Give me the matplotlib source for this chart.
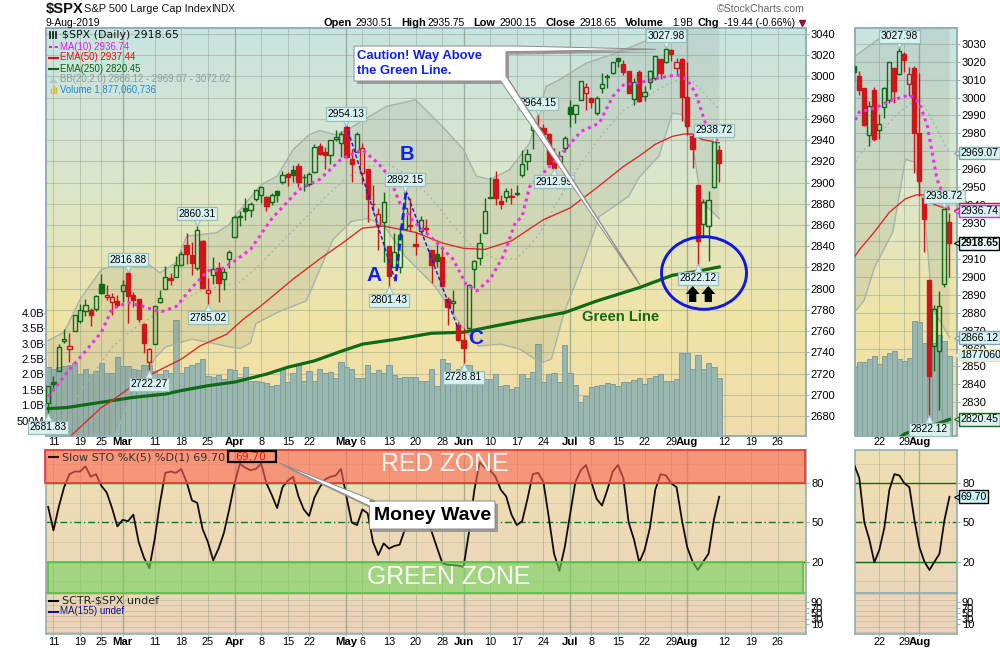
import numpy as np
import matplotlib
matplotlib.use("Agg")
import matplotlib.pyplot as plt
from matplotlib.colors import LinearSegmentedColormap
from matplotlib.patches import Rectangle, Polygon, Ellipse
from matplotlib.transforms import offset_copy

plt.rcParams['font.family'] = ['Liberation Sans', 'DejaVu Sans']

# daily bars, 8 Feb to 9 Aug 2019
opens = [2692.36, 2712.40, 2722.61, 2750.30, 2743.50, 2760.24, 2769.28, 2779.05, 2780.24, 2780.67,
         2804.35, 2792.36, 2787.89, 2788.11, 2798.22, 2814.37, 2794.41, 2790.27, 2766.53, 2730.79,
         2747.61, 2787.34, 2799.78, 2810.38, 2810.79, 2822.61, 2840.76, 2831.34, 2819.72, 2844.52,
         2796.01, 2812.66, 2819.72, 2809.40, 2828.27, 2848.63, 2868.24, 2876.09, 2873.99, 2884.16,
         2888.46, 2886.58, 2881.37, 2891.92, 2900.86, 2908.32, 2912.26, 2916.04, 2904.81, 2898.78,
         2909.99, 2934.00, 2928.99, 2925.81, 2940.58, 2937.14, 2952.33, 2922.16, 2929.21, 2908.89,
         2913.03, 2879.61, 2859.84, 2863.10, 2840.19, 2820.12, 2820.38, 2855.80, 2858.60, 2841.94,
         2854.02, 2856.06, 2836.70, 2832.41, 2830.03, 2790.25, 2786.94, 2766.15, 2751.53, 2762.64,
         2818.09, 2828.51, 2852.87, 2885.83, 2903.27, 2882.73, 2886.24, 2886.82, 2889.75, 2906.71,
         2920.55, 2949.60, 2952.71, 2951.42, 2945.78, 2926.07, 2919.66, 2932.94, 2971.41, 2964.66,
         2978.08, 2984.25, 2979.77, 2965.52, 2989.30, 2999.62, 3003.36, 3017.80, 3012.13, 3005.10,
         2978.87, 3004.26, 2981.93, 2994.74, 2998.77, 3016.26, 3013.25, 3024.47, 3007.66, 3016.22,
         2980.32, 2943.90, 2898.07, 2861.18, 2858.65, 2896.21, 2930.51]
highs = [2708.07, 2718.05, 2748.19, 2761.85, 2757.90, 2775.66, 2785.50, 2789.88, 2781.58, 2794.20,
         2813.49, 2803.12, 2795.76, 2793.73, 2808.02, 2816.88, 2796.44, 2790.27, 2767.25, 2744.13,
         2784.00, 2798.32, 2821.24, 2815.00, 2830.73, 2835.41, 2852.42, 2843.54, 2860.31, 2846.16,
         2809.79, 2829.87, 2825.56, 2819.71, 2836.03, 2869.40, 2872.90, 2885.25, 2881.28, 2893.24,
         2895.95, 2886.88, 2889.71, 2893.42, 2910.54, 2909.60, 2916.06, 2918.00, 2908.40, 2909.51,
         2936.31, 2936.83, 2933.10, 2939.88, 2949.52, 2948.22, 2954.13, 2931.68, 2947.85, 2937.32,
         2913.03, 2897.96, 2875.97, 2891.31, 2840.19, 2852.54, 2858.68, 2892.15, 2885.48, 2853.86,
         2868.88, 2865.47, 2836.70, 2841.36, 2840.51, 2792.03, 2799.00, 2768.98, 2763.07, 2804.49,
         2827.28, 2852.10, 2884.97, 2904.77, 2910.61, 2888.57, 2895.24, 2894.45, 2897.27, 2930.79,
         2931.74, 2958.06, 2964.15, 2954.92, 2946.52, 2932.59, 2929.30, 2943.98, 2977.93, 2973.21,
         2995.84, 2994.03, 2980.76, 2981.90, 3002.98, 3002.33, 3013.92, 3017.80, 3015.02, 3005.26,
         2998.28, 3006.02, 2990.71, 3005.90, 3019.59, 3016.31, 3027.98, 3025.61, 3017.19, 3017.40,
         3013.59, 2945.50, 2898.07, 2884.40, 2892.17, 2938.72, 2935.75]
lows = [2681.83, 2703.79, 2722.61, 2748.63, 2731.23, 2760.24, 2767.25, 2774.06, 2764.55, 2779.11,
        2794.99, 2789.47, 2775.13, 2782.51, 2787.38, 2767.66, 2782.97, 2768.69, 2739.09, 2722.27,
        2747.61, 2786.73, 2799.78, 2803.46, 2810.79, 2821.99, 2823.27, 2812.43, 2817.38, 2800.47,
        2785.02, 2803.99, 2787.72, 2798.77, 2819.23, 2848.63, 2858.75, 2865.17, 2867.14, 2882.99,
        2880.78, 2873.33, 2879.13, 2881.99, 2898.37, 2896.48, 2900.71, 2895.45, 2891.90, 2896.35,
        2908.53, 2926.05, 2912.84, 2917.56, 2939.35, 2924.11, 2923.36, 2900.50, 2929.21, 2898.21,
        2862.60, 2873.28, 2836.40, 2825.39, 2801.43, 2820.12, 2815.08, 2855.80, 2854.23, 2831.29,
        2854.02, 2851.11, 2805.49, 2820.19, 2801.58, 2766.06, 2776.74, 2750.52, 2728.81, 2762.64,
        2800.92, 2822.45, 2852.87, 2885.51, 2878.53, 2874.68, 2881.99, 2879.62, 2887.30, 2905.44,
        2911.43, 2931.50, 2946.87, 2944.05, 2916.01, 2912.99, 2918.57, 2929.05, 2952.22, 2955.92,
        2977.96, 2967.97, 2970.09, 2963.44, 2984.62, 2988.80, 3001.87, 3008.77, 3001.15, 2984.25,
        2973.09, 2975.86, 2976.65, 2988.56, 2996.82, 2997.24, 3012.59, 3014.30, 3000.94, 2958.08,
        2945.23, 2914.11, 2822.12, 2847.42, 2825.71, 2894.47, 2900.15]
closes = [2707.88, 2709.80, 2744.73, 2753.03, 2745.73, 2775.60, 2779.76, 2784.70, 2774.88, 2792.67,
          2796.11, 2793.90, 2792.38, 2784.49, 2803.69, 2792.81, 2789.65, 2771.45, 2748.93, 2743.07,
          2783.30, 2791.52, 2810.92, 2808.48, 2822.48, 2832.94, 2832.57, 2824.23, 2854.88, 2800.71,
          2798.36, 2818.46, 2805.37, 2815.44, 2834.40, 2867.19, 2867.24, 2873.40, 2879.39, 2892.74,
          2895.77, 2878.20, 2888.21, 2888.32, 2907.41, 2905.58, 2907.06, 2900.45, 2905.03, 2907.97,
          2933.68, 2927.25, 2926.17, 2939.88, 2943.03, 2945.83, 2923.73, 2917.52, 2945.64, 2932.47,
          2884.05, 2879.42, 2870.72, 2881.40, 2811.87, 2834.41, 2850.96, 2876.32, 2859.53, 2840.23,
          2864.36, 2856.27, 2822.24, 2826.06, 2802.39, 2783.02, 2788.86, 2752.06, 2744.45, 2803.27,
          2826.15, 2843.49, 2873.34, 2886.73, 2885.72, 2879.84, 2891.64, 2886.98, 2889.67, 2917.75,
          2926.46, 2954.18, 2950.46, 2945.35, 2917.38, 2913.78, 2924.92, 2941.76, 2964.33, 2973.01,
          2995.82, 2990.41, 2975.95, 2979.63, 2993.07, 2999.91, 3013.77, 3014.30, 3004.04, 2984.42,
          2995.11, 2976.61, 2985.03, 3005.47, 3019.56, 3003.67, 3025.86, 3020.97, 3013.18, 2980.38,
          2953.56, 2932.05, 2844.74, 2881.77, 2883.98, 2938.09, 2918.65]
volumes = [2.25, 2.16, 2.25, 2.28, 2.30, 2.36, 2.01, 2.19, 2.01, 2.11,
           2.36, 2.06, 2.06, 2.55, 2.27, 2.27, 2.19, 2.14, 2.30, 2.30,
           2.12, 2.01, 2.14, 2.06, 3.76, 2.06, 2.24, 2.30, 2.36, 2.49,
           1.94, 1.92, 1.98, 1.85, 2.19, 2.13, 1.92, 2.23, 1.78, 1.78,
           1.74, 1.71, 1.62, 1.65, 2.19, 1.74, 2.06, 2.30, 1.78, 2.11,
           1.78, 2.19, 2.06, 2.09, 1.87, 2.39, 2.25, 2.16, 1.87, 1.87,
           2.29, 2.03, 2.13, 2.03, 2.32, 1.97, 1.87, 1.92, 1.90, 1.90,
           1.80, 1.80, 2.19, 1.61, 2.49, 2.38, 1.97, 2.19, 2.25, 2.29,
           2.03, 1.89, 1.84, 1.86, 2.02, 1.63, 1.65, 1.54, 1.58, 2.00,
           1.87, 2.09, 3.00, 1.74, 2.00, 2.03, 1.74, 2.94, 2.03, 1.67,
           1.10, 1.30, 1.58, 1.63, 1.65, 1.73, 1.69, 1.62, 1.74, 1.74,
           1.81, 1.87, 1.69, 1.87, 1.94, 2.00, 1.80, 1.77, 1.84, 2.71,
           2.68, 2.19, 2.62, 2.19, 2.36, 2.23, 1.88]
slow_sto = [62, 44, 62, 77, 87, 89, 89, 93, 85, 87,
            78, 73, 61, 47, 52, 51, 56, 35, 23, 15,
            37, 65, 88, 89, 88, 91, 81, 67, 65, 45,
            35, 21, 30, 42, 60, 80, 95, 92, 90, 91,
            95, 80, 71, 61, 77, 82, 85, 70, 60, 55,
            69, 77, 83, 85, 86, 91, 70, 50, 48, 60,
            57, 35, 25, 34, 30, 32, 33, 45, 55, 58,
            55, 50, 43, 31, 19, 17.5, 17.3, 17, 16, 42,
            74, 96, 92, 90, 85, 75, 70, 56, 48, 51,
            68, 87, 88, 81, 54, 26, 13, 31, 56, 81,
            90, 94, 81, 68, 63, 75, 89, 94, 84, 50,
            37, 19.5, 29, 46, 75, 87, 86, 80, 77, 52,
            31, 20, 13.6, 20, 26, 52, 69.7]

# overlay lines as (bar number, value)
ma10_x = [0, 4, 7, 10, 12, 15, 18, 21, 24, 27, 30, 32, 35, 38, 42, 47, 51, 55, 59, 62, 64, 66, 68.5, 72, 76,
          78.5, 80.5, 83, 85.5, 87.7, 89, 90.4, 93, 96.6, 100, 103.5, 106, 108, 111, 114, 118, 120, 121.6, 123.5, 126]
ma10_y = [2698, 2724, 2741, 2759, 2781, 2787, 2783, 2778, 2783, 2801, 2817, 2817, 2826, 2837, 2866, 2893, 2903,
          2922, 2931, 2918, 2906, 2881, 2864, 2848, 2828, 2804, 2798, 2809, 2831, 2862, 2868, 2896, 2909, 2928,
          2948, 2956, 2981, 2992, 2994, 2998, 3001.5, 2997, 2984, 2954.5, 2936.74]
ema50_x = [4.4, 10, 12, 16, 20, 25, 28.5, 33.5, 36.6, 40, 46, 51, 55, 59, 63, 69, 74, 78, 82, 87, 93, 98, 103,
           108, 111, 114, 117.2, 119.4, 121, 122.9, 126]
ema50_y = [2662, 2688, 2694.5, 2709, 2721, 2733.6, 2746, 2757, 2771, 2784, 2809, 2828, 2842, 2857, 2859, 2853,
           2843, 2838, 2837, 2845, 2865, 2876, 2895, 2915, 2925, 2936, 2943.5, 2945.7, 2945.7, 2940.4, 2937.44]
ema250_x = [0, 3.5, 10, 16, 22, 25, 30, 35, 41, 45, 50, 55, 59, 65.4, 72, 78, 84, 91, 97, 103, 111, 113.5, 117.2, 122, 126]
ema250_y = [2687, 2688, 2693, 2697.6, 2700.7, 2704, 2708.6, 2712, 2719.5, 2726, 2732, 2741, 2747.7, 2752.4, 2758,
            2759, 2765, 2771.8, 2777.5, 2788.4, 2801, 2805.7, 2812.6, 2816.5, 2820.45]
bb_up_x = [0, 3, 6, 10, 12, 18, 21, 24, 26, 31.6, 34, 35, 40, 43, 46, 49, 51, 54, 56.6, 63.5, 69, 74, 78, 80.4,
           83, 86.6, 90.4, 93.5, 96, 101, 106.6, 112, 116, 118.5, 120.3, 126]
bb_up_y = [2751, 2759, 2790, 2818, 2821.3, 2826, 2815, 2824.5, 2849.5, 2852.7, 2860.5, 2868, 2898, 2906, 2931,
           2945, 2949, 2945, 2951, 2971.7, 2978, 2953, 2931, 2906, 2903, 2912, 2937, 2990.5, 2997, 3012.5, 3022,
           3033, 3036, 3037.5, 3047, 3072.02]
bb_mid_x = [0, 12, 16, 20, 24, 28, 32, 36, 40, 44, 48, 52, 56, 60, 64, 68, 72, 76, 80, 84, 88, 92, 96, 100, 104,
            108, 112, 116, 120, 123, 126]
bb_mid_y = [2660, 2745, 2762, 2775, 2784, 2797, 2802, 2806, 2824, 2845, 2865, 2886, 2905, 2915, 2917, 2905, 2885,
            2860, 2838, 2828, 2828, 2850, 2885, 2918, 2945, 2968, 2980, 2992, 3000, 2985, 2969.07]
bb_lo_x = [0, 6, 12.5, 15.4, 18.5, 20, 22, 27, 34.7, 36, 38, 39, 43, 48.5, 51, 53.5, 57, 60, 63, 67, 72.6, 77.6,
           80.8, 85, 88.6, 92.5, 94.5, 96.9, 100, 103.5, 109, 111, 114.7, 117.2, 119, 121, 122.6, 126]
bb_lo_y = [2600, 2630, 2661, 2696, 2719.5, 2734, 2745, 2752.4, 2744.6, 2743.6, 2749, 2767, 2777.5, 2788.5, 2818,
           2846.4, 2863.6, 2866, 2860, 2830.7, 2802.5, 2765, 2746, 2747.7, 2743, 2730, 2733.6, 2777.5, 2818, 2868,
           2887, 2905, 2925, 2965.5, 2964, 2937, 2882.5, 2866.12]
abc_x = [56, 65.2, 67.2, 77]
abc_y = [2954, 2807, 2892, 2762]

# price labels on swing points: bar, price, placed above
swing_labels = [(0, 2681.83, False), (15, 2816.88, True), (19, 2722.27, False), (28, 2860.31, True),
                (30, 2785.02, False), (56, 2954.13, True), (64, 2801.43, False), (67, 2892.15, True),
                (78, 2728.81, False), (92, 2964.15, True), (95, 2912.99, False), (116, 3027.98, True),
                (125, 2938.72, True), (122, 2822.12, False)]
inset_swing_labels = [(116, 3027.98, True), (125, 2938.72, True), (122, 2822.12, False)]

main_date_ticks = [1, 6, 10, 14, 20, 25, 30, 35, 40, 45, 49, 56, 59, 64, 69, 74, 78, 83, 88, 93, 98, 102, 107,
                   112, 117, 120, 127, 132, 137]
main_date_labels = ['11', '19', '25', 'Mar', '11', '18', '25', 'Apr', '8', '15', '22', 'May', '6', '13', '20', '28',
                    'Jun', '10', '17', '24', 'Jul', '8', '15', '22', '29', 'Aug', '12', '19', '26']
inset_date_ticks = [112, 117, 120]
inset_date_labels = ['22', '29', 'Aug']
months = ['Mar', 'Apr', 'May', 'Jun', 'Jul', 'Aug']

main_price_ticks = list(range(2680, 3041, 20))
inset_price_ticks = list(range(2830, 3031, 10))
vol_ticks = [0.5, 1.0, 1.5, 2.0, 2.5, 3.0, 3.5, 4.0]
vol_labels = ['500M', '1.0B', '1.5B', '2.0B', '2.5B', '3.0B', '3.5B', '4.0B']
sctr_ticks = [10, 30, 50, 70, 90]

GREEN = '#0f6a16'
RED = '#cf1518'
BORDER = '#8fb0b2'
GRID = '#8c9c88'
TAG_FILL = '#d8f2f2'
TAG_EDGE = '#9dbcbc'

price_cmap = LinearSegmentedColormap.from_list('price', [(0, '#c8e4e1'), (0.3, '#d8e6d1'), (0.5, '#e2e6bf'),
                                                         (0.72, '#f0e4a6'), (1, '#f0dcab')])
sto_cmap = LinearSegmentedColormap.from_list('sto', ['#efdfb2', '#ecd6ba'])
sctr_cmap = LinearSegmentedColormap.from_list('sctr', ['#ecd6ba', '#ecd2b8'])

fig = plt.figure(figsize=(10, 6.5), dpi=100, facecolor='white')


def px_axes(x0, y0, x1, y1, zorder):
    ax = fig.add_axes([x0 / 1000, 1 - y1 / 650, (x1 - x0) / 1000, (y1 - y0) / 650], zorder=zorder)
    return ax


def paint_bg(ax, cmap):
    ax.imshow(np.linspace(0, 1, 256)[:, None], cmap=cmap, aspect='auto', extent=[0, 1, 0, 1],
              transform=ax.transAxes, zorder=0)


def style_spines(ax):
    for s in ax.spines.values():
        s.set_color(BORDER)
        s.set_linewidth(1.2)


def grid_x(ax, ticks, labels):
    for t, l in zip(ticks, labels):
        month = l in months
        ax.axvline(t, color=GRID, lw=1.0 if month else 0.7, alpha=0.75 if month else 0.45, zorder=1)


def bold_months(labels):
    for lab in labels:
        if lab.get_text() in months:
            lab.set_fontweight('bold')
            lab.set_fontsize(8.2)


def draw_candles(ax, body_w):
    for i in range(len(closes)):
        up_day = i == 0 or closes[i] >= closes[i - 1]
        col = GREEN if up_day else RED
        top, bot = max(opens[i], closes[i]), min(opens[i], closes[i])
        ax.vlines(i, top, highs[i], color=col, lw=1.0, zorder=6)
        ax.vlines(i, lows[i], bot, color=col, lw=1.0, zorder=6)
        hollow = closes[i] >= opens[i]
        ax.add_patch(Rectangle((i - body_w / 2, bot), body_w, max(top - bot, 0.8),
                               facecolor='none' if hollow else col, edgecolor=col, lw=1.0, zorder=6))


def swing_tag(ax, i, price, above):
    sign = 1 if above else -1
    ax.plot([i], [price], marker='v' if above else '^', ms=6.5, mfc=TAG_FILL, mec=TAG_EDGE, mew=0.7, clip_on=False,
            zorder=11, transform=offset_copy(ax.transData, fig=fig, y=sign * 4, units='dots'))
    ax.annotate(f'{price:.2f}', xy=(i, price), xytext=(0, 8 if above else -9.4), textcoords='offset points',
                ha='center', va='center', fontsize=7.4, color='black', zorder=12, annotation_clip=False,
                bbox=dict(boxstyle='square,pad=0.15', fc=TAG_FILL, ec=TAG_EDGE, lw=0.9))


def draw_price_panel(x0, x1, xlim, ylim, vol_top, ticks, date_ticks, date_labels, tags, body_w, z):
    y0, y1 = 28, 436
    bg = px_axes(x0, y0, x1, y1, z)
    paint_bg(bg, price_cmap)
    bg.set_xlim(xlim)
    bg.set_ylim(ylim)
    bg.set_xticks([])
    bg.set_yticks([])
    for t in ticks:
        bg.axhline(t, color=GRID, lw=0.8, alpha=0.45, zorder=1)
    grid_x(bg, date_ticks, date_labels)
    style_spines(bg)

    vol = px_axes(x0, y0, x1, y1, z + 1)
    vol.patch.set_visible(False)
    vol.bar(range(len(volumes)), volumes, width=1.0, color='#9ab7ad', edgecolor='#7f9ea3', lw=0.7, zorder=2)
    vol.set_xlim(xlim)
    vol.set_ylim(0, vol_top)
    vol.set_xticks([])
    vol.set_yticks([])
    vol.set_frame_on(False)

    ax = px_axes(x0, y0, x1, y1, z + 2)
    ax.patch.set_visible(False)
    ax.set_xlim(xlim)
    ax.set_ylim(ylim)
    band_x = np.r_[bb_up_x, bb_lo_x[::-1]]
    band_y = np.r_[bb_up_y, bb_lo_y[::-1]]
    ax.fill(band_x, band_y, facecolor='#7d8a7c', alpha=0.16, edgecolor='none', zorder=1)
    ax.plot(bb_up_x, bb_up_y, color='#a7b3ab', lw=1.0, zorder=2)
    ax.plot(bb_lo_x, bb_lo_y, color='#a7b3ab', lw=1.0, zorder=2)
    ax.plot(bb_mid_x, bb_mid_y, color='#a9b2a8', lw=0.9, ls=(0, (1.5, 2.5)), zorder=2)
    ax.plot(ema250_x, ema250_y, color=GREEN, lw=2.3, zorder=4)
    ax.plot(ema50_x, ema50_y, color='#dd2a2a', lw=1.0, zorder=4)
    draw_candles(ax, body_w)
    ax.plot(ma10_x, ma10_y, color='#ee2eea', lw=2.2, ls=(0, (1, 1.3)), zorder=7)
    for i, p, above in tags:
        swing_tag(ax, i, p, above)
    ax.set_xticks([])
    ax.yaxis.tick_right()
    ax.set_yticks(ticks)
    ax.tick_params(axis='y', length=2.5, width=0.7, color=BORDER, labelsize=8, pad=1)
    style_spines(ax)
    return ax, vol


def draw_sto_panel(x0, x1, xlim, date_ticks, date_labels, z):
    sto = px_axes(x0, 450, x1, 593, z)
    paint_bg(sto, sto_cmap)
    sto.set_xlim(xlim)
    sto.set_ylim(-4, 105.5)
    grid_x(sto, date_ticks, date_labels)
    for lev in [35, 65, 95, 5]:
        sto.axhline(lev, color=GRID, lw=0.6, alpha=0.25, zorder=1)
    sto.axhline(80, color=GREEN, lw=1.0, zorder=2)
    sto.axhline(20, color=GREEN, lw=1.0, zorder=2)
    sto.axhline(50, color='#0b7a2a', lw=1.0, ls=(0, (5, 2, 1, 2)), zorder=2)
    sto.plot(range(len(slow_sto)), slow_sto, color='#140c0c', lw=1.3, zorder=3)
    sto.yaxis.tick_right()
    sto.set_yticks([20, 50, 80])
    sto.set_xticks(date_ticks)
    sto.set_xticklabels(date_labels)
    sto.xaxis.tick_top()
    sto.tick_params(axis='x', length=1.5, width=0.6, color=BORDER, labelsize=7.8, pad=0.5)
    sto.tick_params(axis='y', length=2.5, width=0.7, color=BORDER, labelsize=8, pad=1.5)
    bold_months(sto.get_xticklabels())
    style_spines(sto)

    sctr = px_axes(x0, 593, x1, 634, z)
    paint_bg(sctr, sctr_cmap)
    sctr.set_xlim(xlim)
    sctr.set_ylim(-27, 125)
    grid_x(sctr, date_ticks, date_labels)
    for lev in range(-20, 125, 20):
        sctr.axhline(lev, color=GRID, lw=0.6, alpha=0.35, zorder=1)
    sctr.yaxis.tick_right()
    sctr.set_yticks(sctr_ticks)
    sctr.set_xticks(date_ticks)
    sctr.set_xticklabels(date_labels)
    sctr.tick_params(axis='x', length=1.5, width=0.6, color=BORDER, labelsize=7.8, pad=1)
    sctr.tick_params(axis='y', length=2, width=0.7, color=BORDER, labelsize=8, pad=1.5)
    bold_months(sctr.get_xticklabels())
    style_spines(sctr)
    return sto


def edge_tag(ax, value, text, edge, fill, bold=False, text_col='black'):
    trans = ax.get_yaxis_transform()
    ax.plot([1.0], [value], marker='<', ms=5.5, mfc=fill, mec=edge, mew=0.8, clip_on=False, zorder=11,
            transform=offset_copy(trans, fig=fig, x=1, units='dots'))
    ax.annotate(text, xy=(1.0, value), xycoords=trans, xytext=(2.4, 0), textcoords='offset points', va='center',
                ha='left', fontsize=7.6, color=text_col, fontweight='bold' if bold else 'normal', zorder=12,
                annotation_clip=False, bbox=dict(boxstyle='square,pad=0.12', fc=fill, ec=edge, lw=1.0))


# --- main panels ---
main_ax, main_vol = draw_price_panel(46, 806, (-0.4, 142.3), (2661.2, 3045.6), 13.25, main_price_ticks,
                                     main_date_ticks, main_date_labels, swing_labels, 0.8, 1)
main_ax.plot(abc_x[:2], abc_y[:2], color='#1a22e0', lw=1.1, ls=(0, (2.5, 1.5)), zorder=8)
main_ax.plot(abc_x[1:3], abc_y[1:3], color='#1a22e0', lw=2.0, ls=(0, (2.5, 1.2)), zorder=8)
main_ax.plot(abc_x[2:], abc_y[2:], color='#1a22e0', lw=1.1, ls=(0, (2.5, 1.5)), zorder=8)
main_vol.yaxis.tick_left()
main_vol.set_yticks(vol_ticks)
main_vol.set_yticklabels(vol_labels)
main_vol.tick_params(axis='y', length=2, width=0.7, color=BORDER, labelsize=8, pad=-0.5)
for lab in main_vol.get_yticklabels():
    lab.set_clip_on(False)

inset_ax, inset_vol = draw_price_panel(855, 957, (107.14, 127.5), (2811.2, 3038.8), 9.58, inset_price_ticks,
                                       inset_date_ticks, inset_date_labels, inset_swing_labels, 0.8, 1)
edge_tag(inset_ax, 2969.07, '2969.07', '#7fa3ad', '#d8f2f2')
edge_tag(inset_ax, 2937.44, '2937.44', '#e01010', '#ffffff', text_col='#e01010')
edge_tag(inset_ax, 2936.74, '2936.74', '#e61fe0', '#d8f2f2')
edge_tag(inset_ax, 2918.65, '2918.65', 'black', '#e8f8f8', bold=True)
edge_tag(inset_ax, 2866.12, '2866.12', '#7fa3ad', '#d8f2f2')
edge_tag(inset_ax, 2856.4, '1877060', '#f3e2b0', '#d8f5f5')
edge_tag(inset_ax, 2820.45, '2820.45', GREEN, '#d8f2f2')

main_sto = draw_sto_panel(46, 806, (-0.4, 142.3), main_date_ticks, main_date_labels, 1)
inset_sto = draw_sto_panel(855, 957, (107.14, 127.5), inset_date_ticks, inset_date_labels, 1)
edge_tag(inset_sto, 69.7, '69.70', 'black', '#cdf3f5')

# --- overlay in picture pixels: headings, zones, callouts ---
top = fig.add_axes([0, 0, 1, 1], zorder=20)
top.set_xlim(0, 1000)
top.set_ylim(650, 0)
top.axis('off')
top.patch.set_visible(False)

top.text(46, 9.5, '$SPX', fontsize=10.6, fontweight='bold', va='center', color='#111111')
top.text(84, 9.5, 'S&P 500 Large Cap Index', fontsize=7.9, va='center', color='#111111')
top.text(211, 9.5, 'INDX', fontsize=7.2, va='center', color='#111111')
top.text(46, 22.5, '9-Aug-2019', fontsize=7.5, va='center')
header = [(324, 'Open', True), (356, '2930.51', False), (401, 'High', True), (428, '2935.75', False),
          (473, 'Low', True), (500, '2900.15', False), (545, 'Close', True), (580, '2918.65', False),
          (625, 'Volume', True), (672, '1.9B', False), (698, 'Chg', True), (724, '-19.44 (-0.66%)', False)]
for x, s, b in header:
    top.text(x, 22.5, s, fontsize=7.9 if b else 7.4, fontweight='bold' if b else 'normal', va='center')
top.plot([802], [22.5], marker='v', ms=4.5, color='#a00a3a', clip_on=False)
top.text(717, 9.5, '©StockCharts.com', fontsize=7.6, va='center', color='#666666')

top.text(62, 35.5, '$SPX (Daily) 2918.65', fontsize=7.9, color='#111111', va='center', family='DejaVu Sans')
legend_rows = [(46.5, 'MA(10) 2936.74', '#ee12ee', '#ee12ee', (0, (1.5, 1.2))),
               (57.5, 'EMA(50) 2937.44', '#e01010', '#e01010', '-'),
               (68.5, 'EMA(250) 2820.45', '#0a5f12', '#0a5f12', '-'),
               (79.5, 'BB(20,2.0) 2866.12 - 2969.07 - 3072.02', '#8d9ca0', None, None),
               (90, 'Volume 1,877,060,736', '#2088c8', None, None)]
for y, s, col, line_col, ls in legend_rows:
    top.text(60, y, s, fontsize=6.9, color=col, va='center')
    if line_col:
        top.plot([49, 58], [y, y], color=line_col, lw=1.5, ls=ls)
top.add_patch(Polygon([(49, 83), (53, 78), (58, 83)], fc='#b5c4c0', ec='none'))
for x, h in zip([51, 53.5, 56], [4, 7, 5]):
    top.plot([x, x], [93, 93 - h], color='#d8b040', lw=1)
top.plot([50, 50], [32, 38], color='#222222', lw=1.3)
top.plot([53, 53], [32, 38], color='#222222', lw=1.3)
top.plot([56, 56], [32, 38], color='#222222', lw=1.3)

# money wave zones sit over the stochastic line
top.add_patch(Rectangle((44.5, 450), 760.5, 33, fc='#fa6653', ec='none', alpha=0.6))
top.add_patch(Rectangle((44.5, 450), 760.5, 33, fc='none', ec='#e8403a', lw=1.3))
top.add_patch(Rectangle((48, 562), 755, 31, fc='#73d35d', ec='none', alpha=0.6))
top.add_patch(Rectangle((48, 562), 755, 31, fc='none', ec='#58c846', lw=1.3))
top.text(444.5, 464, 'RED ZONE', fontsize=17.8, color='white', ha='center', va='center', alpha=0.92)
top.text(449, 577, 'GREEN ZONE', fontsize=17.8, color='white', ha='center', va='center', alpha=0.92)

top.plot([49, 58], [457, 457], color='#3a0a0a', lw=1.5)
top.text(61.5, 457, 'Slow STO %K(5) %D(1) 69.70', fontsize=8, color='#333333', va='center', family='DejaVu Sans')
top.add_patch(Rectangle((228, 451), 47.5, 11, fc='none', ec='black', lw=1.6))
top.text(235.5, 457, '69.70', fontsize=7.8, color='#f01010', va='center', family='DejaVu Sans')
top.plot([49, 58], [600.5, 600.5], color='black', lw=1.5)
top.text(61.5, 600.5, 'SCTR-$SPX undef', fontsize=8, color='#222222', va='center', family='DejaVu Sans')
top.plot([49, 58], [611.5, 611.5], color='#10108a', lw=1.5)
top.text(60, 611.5, 'MA(155) undef', fontsize=7, color='#10108a', va='center')

# callouts with a hard grey shadow
caution = [(354, 46), (516, 46), (656, 49.3), (506, 51.7), (506, 76), (640, 285), (500.7, 81), (354, 81)]
wave_box = [(369.5, 501), (375, 501), (279, 463), (369.5, 506), (369.5, 529), (495, 529), (495, 501)]
for shape in [caution, wave_box]:
    top.add_patch(Polygon([(x + 3, y + 3) for x, y in shape], fc='#8f8f8f', ec='none', alpha=0.85))
    top.add_patch(Polygon(shape, fc='white', ec='#8a8a8a', lw=0.7))
top.text(357, 55.5, 'Caution! Way Above', fontsize=9.4, fontweight='bold', color='#1020ee', va='center')
top.text(357, 70.5, 'the Green Line.', fontsize=9.4, fontweight='bold', color='#1020ee', va='center')
top.text(432.5, 515.5, 'Money Wave', fontsize=14, fontweight='bold', color='black', ha='center', va='center')

for s, x, y, size in [('A', 374.5, 275.5, 15), ('B', 407, 155, 14.5), ('C', 476, 338, 15)]:
    top.text(x, y, s, fontsize=size, fontweight='bold', color='#1020ee', ha='center', va='center')
top.text(621, 317, 'Green Line', fontsize=10.6, fontweight='bold', color=GREEN, ha='center', va='center')

top.add_patch(Ellipse((704, 273), 85, 72.6, fc='none', ec='#1018e0', lw=2.1))
for cx in [692.7, 708.3]:
    top.add_patch(Polygon([(cx - 7, 294), (cx, 286), (cx + 7, 294), (cx + 3.6, 294), (cx + 3.6, 302),
                           (cx - 3.6, 302), (cx - 3.6, 294)], fc='black', ec='none'))

fig.savefig('out.png', dpi=100, facecolor='white')
